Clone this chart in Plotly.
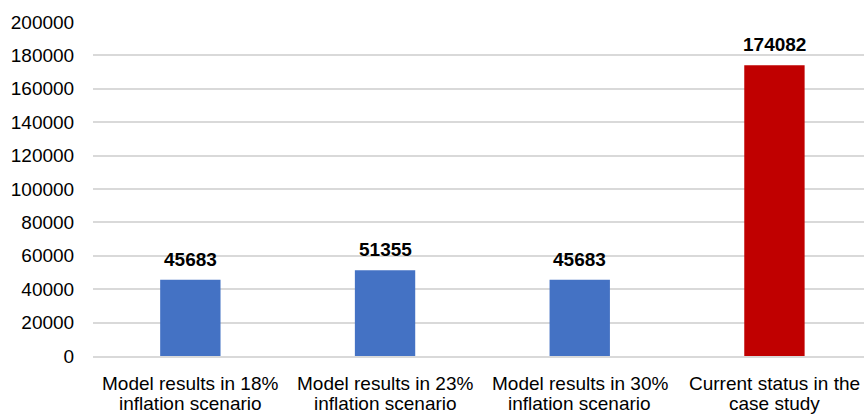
import plotly.graph_objects as go

categories = [
    ["Model results in 18%", "inflation scenario"],
    ["Model results in 23%", "inflation scenario"],
    ["Model results in 30%", "inflation scenario"],
    ["Current status in the", "case study"],
]
values = [45683, 51355, 45683, 174082]
colors = ["#4472C4", "#4472C4", "#4472C4", "#C00000"]
y_ticks = list(range(0, 200001, 20000))

font_family = "Liberation Sans, Arial, sans-serif"
PLOT_TOP, PLOT_BOTTOM = 22, 356
plot_h = PLOT_BOTTOM - PLOT_TOP

fig = go.Figure(
    go.Bar(
        x=list(range(len(categories))),
        y=values,
        marker=dict(color=colors, line=dict(width=0)),
        width=0.31,
        hoverinfo="skip",
    )
)

# value labels above each bar
for i, v in enumerate(values):
    fig.add_annotation(
        x=i, y=v, text=f"<b>{v}</b>", showarrow=False,
        yanchor="bottom", yshift=8,
        font=dict(family=font_family, size=19, color="#000000"),
    )

# two-line category labels under the axis, tight line spacing
line_centres_px = [383, 403]
for i, lines in enumerate(categories):
    for text, py in zip(lines, line_centres_px):
        fig.add_annotation(
            x=i, xref="x", y=(PLOT_BOTTOM - py) / plot_h, yref="paper",
            text=text, showarrow=False, yanchor="middle",
            font=dict(family=font_family, size=19, color="#000000"),
        )

fig.update_layout(
    width=864, height=414,
    margin=dict(l=93, r=0, t=PLOT_TOP, b=414 - PLOT_BOTTOM),
    paper_bgcolor="white", plot_bgcolor="white",
    showlegend=False,
    font=dict(family=font_family, size=19, color="#000000"),
    xaxis=dict(
        tickvals=list(range(len(categories))),
        showticklabels=False,
        range=[-0.5, 3.46],
        showgrid=False, zeroline=False,
        showline=True, linecolor="#D9D9D9", linewidth=1.5,
        ticks="",
    ),
    yaxis=dict(
        range=[0, 200000],
        tickvals=y_ticks,
        ticktext=[str(t) for t in y_ticks],
        showgrid=True, gridcolor="#D9D9D9", gridwidth=1.5,
        zeroline=False, showline=False,
        ticks="outside", ticklen=14, tickcolor="rgba(0,0,0,0)",
        tickfont=dict(size=19, color="#000000"),
    ),
)

fig.write_html("out.html")
